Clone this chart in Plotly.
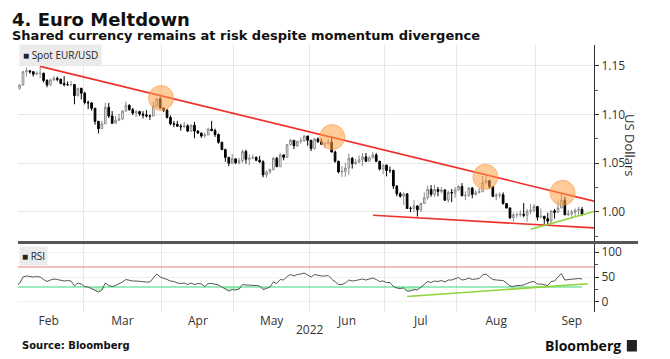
import plotly.graph_objects as go
import pandas as pd

# ---------------- data ----------------
DATES = pd.bdate_range("2022-02-01", "2022-09-20") + pd.Timedelta(hours=12)

OPEN_FIRST = 1.1235
CLOSE = [
    # Feb
    1.1270, 1.1305, 1.1440, 1.1450, 1.1440, 1.1415, 1.1425, 1.1425, 1.1350, 1.1305,
    1.1356, 1.1372, 1.1362, 1.1320, 1.1307, 1.1307, 1.1309, 1.1195, 1.1270, 1.1220,
    # Mar
    1.1125, 1.1120, 1.1065, 1.0930, 1.0855, 1.0905, 1.1075, 1.0985, 1.0910, 1.0940,
    1.0955, 1.1035, 1.1095, 1.1050, 1.1015, 1.1030, 1.1005, 1.0995, 1.0985, 1.0985,
    1.1090, 1.1160, 1.1067,
    # Apr
    1.1045, 1.0970, 1.0905, 1.0900, 1.0880, 1.0875, 1.0885, 1.0830, 1.0890, 1.0830,
    1.0810, 1.0780, 1.0790, 1.0850, 1.0835, 1.0795, 1.0715, 1.0640, 1.0560, 1.0500,
    1.0545,
    # May
    1.0505, 1.0525, 1.0620, 1.0540, 1.0550, 1.0560, 1.0530, 1.0515, 1.0380, 1.0410,
    1.0435, 1.0550, 1.0465, 1.0585, 1.0560, 1.0690, 1.0735, 1.0680, 1.0725, 1.0730,
    1.0780, 1.0735,
    # Jun
    1.0650, 1.0750, 1.0720, 1.0695, 1.0705, 1.0715, 1.0615, 1.0520, 1.0410, 1.0415,
    1.0450, 1.0550, 1.0495, 1.0510, 1.0535, 1.0565, 1.0520, 1.0555, 1.0585, 1.0520,
    1.0440, 1.0480,
    # Jul
    1.0425, 1.0425, 1.0265, 1.0185, 1.0160, 1.0185, 1.0035, 1.0035, 1.0060, 1.0020,
    1.0085, 1.0145, 1.0230, 1.0180, 1.0230, 1.0210, 1.0225, 1.0120, 1.0200, 1.0195,
    1.0225,
    # Aug
    1.0260, 1.0165, 1.0170, 1.0245, 1.0180, 1.0195, 1.0210, 1.0300, 1.0320, 1.0260,
    1.0160, 1.0170, 1.0175, 1.0085, 1.0040, 0.9940, 0.9970, 0.9970, 0.9975, 0.9965,
    1.0005, 1.0015, 1.0055,
    # Sep
    0.9945, 0.9955, 0.9930, 0.9905, 1.0010, 0.9995, 1.0040, 1.0120, 0.9970, 0.9980,
    0.9995, 1.0015, 1.0025, 0.9975,
]
HIGH = [
    1.1281, 1.1310, 1.1450, 1.1483, 1.1455, 1.1448, 1.1445, 1.1495, 1.1430, 1.1365,
    1.1368, 1.1395, 1.1390, 1.1370, 1.1395, 1.1340, 1.1345, 1.1315, 1.1275, 1.1275,
    1.1235, 1.1145, 1.1125, 1.1065, 1.0935, 1.0935, 1.1120, 1.1120, 1.1035, 1.0985,
    1.1010, 1.1045, 1.1135, 1.1105, 1.1070, 1.1045, 1.1040, 1.1035, 1.1045, 1.1000,
    1.1135, 1.1170, 1.1185,
    1.1075, 1.1055, 1.0990, 1.0935, 1.0935, 1.0905, 1.0925, 1.0900, 1.0900, 1.0925,
    1.0840, 1.0815, 1.0815, 1.0865, 1.0935, 1.0855, 1.0805, 1.0720, 1.0650, 1.0565,
    1.0595,
    1.0545, 1.0555, 1.0640, 1.0640, 1.0590, 1.0590, 1.0570, 1.0575, 1.0530, 1.0425,
    1.0445, 1.0565, 1.0565, 1.0605, 1.0590, 1.0695, 1.0750, 1.0735, 1.0730, 1.0765,
    1.0787, 1.0780,
    1.0740, 1.0755, 1.0765, 1.0750, 1.0710, 1.0750, 1.0774, 1.0630, 1.0525, 1.0470,
    1.0505, 1.0600, 1.0565, 1.0545, 1.0580, 1.0605, 1.0605, 1.0575, 1.0615, 1.0605,
    1.0525, 1.0490,
    1.0485, 1.0465, 1.0435, 1.0275, 1.0205, 1.0200, 1.0190, 1.0055, 1.0120, 1.0070,
    1.0095, 1.0200, 1.0270, 1.0275, 1.0280, 1.0255, 1.0255, 1.0235, 1.0215, 1.0235,
    1.0255,
    1.0275, 1.0295, 1.0210, 1.0255, 1.0255, 1.0225, 1.0245, 1.0368, 1.0368, 1.0330,
    1.0265, 1.0195, 1.0200, 1.0200, 1.0090, 1.0045, 0.9990, 0.9995, 1.0015, 1.0090,
    1.0030, 1.0080, 1.0080,
    1.0055, 1.0034, 0.9955, 0.9990, 1.0015, 1.0030, 1.0113, 1.0198, 1.0155, 1.0020,
    1.0020, 1.0035, 1.0050, 1.0050,
]
LOW = [
    1.1220, 1.1255, 1.1295, 1.1392, 1.1420, 1.1390, 1.1405, 1.1375, 1.1330, 1.1280,
    1.1295, 1.1345, 1.1340, 1.1310, 1.1290, 1.1295, 1.1290, 1.1106, 1.1185, 1.1155,
    1.1105, 1.1055, 1.1040, 1.0895, 1.0806, 1.0855, 1.0900, 1.0965, 1.0905, 1.0905,
    1.0940, 1.0945, 1.1030, 1.1040, 1.0995, 1.0975, 1.0985, 1.0960, 1.0970, 1.0945,
    1.0980, 1.1070, 1.1060,
    1.1025, 1.0960, 1.0890, 1.0870, 1.0875, 1.0835, 1.0860, 1.0820, 1.0820, 1.0757,
    1.0800, 1.0760, 1.0760, 1.0790, 1.0830, 1.0770, 1.0700, 1.0635, 1.0515, 1.0470,
    1.0490,
    1.0490, 1.0490, 1.0505, 1.0495, 1.0480, 1.0545, 1.0520, 1.0500, 1.0355, 1.0350,
    1.0390, 1.0425, 1.0460, 1.0460, 1.0530, 1.0555, 1.0685, 1.0645, 1.0665, 1.0700,
    1.0720, 1.0680,
    1.0625, 1.0640, 1.0710, 1.0690, 1.0655, 1.0690, 1.0610, 1.0505, 1.0395, 1.0359,
    1.0360, 1.0380, 1.0445, 1.0480, 1.0500, 1.0470, 1.0510, 1.0515, 1.0550, 1.0510,
    1.0425, 1.0385,
    1.0365, 1.0400, 1.0235, 1.0160, 1.0145, 1.0070, 1.0030, 0.9998, 0.9998, 0.9952,
    1.0000, 1.0080, 1.0125, 1.0155, 1.0155, 1.0160, 1.0190, 1.0110, 1.0095, 1.0100,
    1.0145,
    1.0215, 1.0160, 1.0120, 1.0150, 1.0140, 1.0165, 1.0195, 1.0200, 1.0280, 1.0235,
    1.0150, 1.0120, 1.0145, 1.0075, 1.0035, 0.9925, 0.9901, 0.9940, 0.9950, 0.9945,
    0.9900, 0.9975, 0.9995,
    0.9910, 0.9935, 0.9877, 0.9864, 0.9875, 0.9930, 0.9990, 1.0035, 0.9965, 0.9955,
    0.9945, 0.9955, 0.9965, 0.9955,
]
OPEN = [OPEN_FIRST] + CLOSE[:-1]

RSI = [
    33, 37, 50, 52, 51, 50, 51, 50, 45, 41, 44, 46, 45, 43, 42, 43, 42, 32, 38, 36,
    31, 30, 27, 23, 20, 24, 38, 33, 31, 33, 36, 40, 45, 43, 42, 42, 41, 40, 40, 40,
    48, 56, 50,
    48, 45, 42, 41, 38, 37, 38, 35, 38, 35, 37, 36, 31, 37, 37, 35, 34, 30, 26, 22,
    25,
    24, 26, 35, 34, 34, 34, 33, 32, 25, 27, 30, 40, 37, 45, 44, 51, 55, 52, 55, 56,
    58, 54,
    50, 55, 53, 52, 52, 53, 46, 40, 35, 35, 38, 44, 42, 43, 45, 46, 44, 46, 48, 45,
    41, 42,
    39, 39, 31, 28, 27, 28, 22, 22, 25, 24, 30, 35, 41, 39, 42, 41, 43, 40, 44, 44,
    46,
    49, 44, 45, 48, 45, 46, 47, 54, 56, 50, 45, 44, 44, 43, 38, 32, 31, 33, 33, 34,
    37, 40, 41,
    36, 36, 35, 33, 41, 42, 50, 57, 44, 45, 46, 47, 47, 46,
]
RSI_OVERBOUGHT = 70
RSI_OVERSOLD = 30

# annotation marks
UPPER_TREND_X = ["2022-02-10 12:00", "2022-09-23 23:59"]
UPPER_TREND_Y = [1.1495, 1.0110]
LOWER_TREND_X = ["2022-06-27 14:00", "2022-09-23 23:59"]
LOWER_TREND_Y = [0.9965, 0.9835]
PRICE_GREEN_X = ["2022-08-30 14:00", "2022-09-23 23:59"]
PRICE_GREEN_Y = [0.9820, 1.0003]
RSI_GREEN_X = ["2022-07-11 12:00", "2022-09-22 06:00"]
RSI_GREEN_Y = [11, 36.5]
CIRCLE_X = ["2022-03-31 18:00", "2022-06-09 16:00", "2022-08-11 08:00", "2022-09-12 20:00"]
CIRCLE_Y = [1.1170, 1.0769, 1.0360, 1.0195]

MONTH_LABELS = ["Feb", "Mar", "Apr", "May", "Jun", "Jul", "Aug", "Sep"]
MONTH_LABEL_POS = ["2022-02-15 00:00", "2022-03-16 12:00", "2022-04-15 12:00", "2022-05-17 00:00",
                   "2022-06-16 00:00", "2022-07-15 12:00", "2022-08-16 12:00", "2022-09-15 12:00"]
MONTH_STARTS = ["2022-03-01", "2022-04-01", "2022-05-02", "2022-06-01",
                "2022-07-01", "2022-08-01", "2022-09-01"]
PRICE_TICKS = [1.00, 1.05, 1.10, 1.15]
PRICE_MINOR = [0.975, 1.025, 1.075, 1.125]
RSI_TICKS = [0, 50, 100]
RSI_MINOR = [25, 75]

X_RANGE = ["2022-02-02 01:00", "2022-09-23 23:59"]

# ---------------- figure ----------------
FONT = "Open Sans"
fig = go.Figure()

fig.add_trace(go.Candlestick(
    x=DATES, open=OPEN, high=HIGH, low=LOW, close=CLOSE,
    increasing=dict(fillcolor="#ffffff", line=dict(color="#8a8a8a", width=1)),
    decreasing=dict(fillcolor="#000000", line=dict(color="#000000", width=1)),
    whiskerwidth=0, xaxis="x", yaxis="y", showlegend=False, hoverinfo="skip"))

red = "#f0302a"
lg = "#8ed43a"
for xs, ys, col in [(UPPER_TREND_X, UPPER_TREND_Y, red), (LOWER_TREND_X, LOWER_TREND_Y, red),
                    (PRICE_GREEN_X, PRICE_GREEN_Y, lg)]:
    fig.add_trace(go.Scatter(x=xs, y=ys, mode="lines", line=dict(color=col, width=1.6),
                             xaxis="x", yaxis="y", showlegend=False, hoverinfo="skip"))

fig.add_trace(go.Scatter(
    x=CIRCLE_X, y=CIRCLE_Y, mode="markers",
    marker=dict(size=25, color="rgba(255,160,70,0.55)",
                line=dict(color="rgba(250,150,60,0.6)", width=1)),
    xaxis="x", yaxis="y", showlegend=False, hoverinfo="skip"))

# RSI panel
oversold_line = [RSI_OVERSOLD] * len(RSI)
rsi_below = [min(v, RSI_OVERSOLD) for v in RSI]
fig.add_trace(go.Scatter(x=DATES, y=oversold_line, mode="lines",
                         line=dict(color="#3fd67a", width=1.2),
                         xaxis="x2", yaxis="y2", showlegend=False, hoverinfo="skip"))
fig.add_trace(go.Scatter(x=DATES, y=rsi_below, mode="lines", line=dict(width=0),
                         fill="tonexty", fillcolor="rgba(140,235,160,0.55)",
                         xaxis="x2", yaxis="y2", showlegend=False, hoverinfo="skip"))
fig.add_trace(go.Scatter(x=DATES, y=RSI, mode="lines", line=dict(color="#555555", width=1),
                         xaxis="x2", yaxis="y2", showlegend=False, hoverinfo="skip"))
fig.add_trace(go.Scatter(x=RSI_GREEN_X, y=RSI_GREEN_Y, mode="lines",
                         line=dict(color=lg, width=1.6),
                         xaxis="x2", yaxis="y2", showlegend=False, hoverinfo="skip"))

rb = [dict(bounds=["sat", "mon"])]
grid = "#e6e6e6"
xcommon = dict(type="date", rangebreaks=rb, range=X_RANGE, showgrid=False,
               tickmode="array", tickvals=MONTH_LABEL_POS, ticktext=MONTH_LABELS,
               ticks="", zeroline=False, showline=False,
               minor=dict(tickmode="array", tickvals=MONTH_STARTS, showgrid=True,
                          gridcolor=grid, gridwidth=1, ticks=""),
               tickfont=dict(family=FONT, size=12, color="#333"))

# the page body adds an 8px offset, so the figure is 8px smaller on each axis
fig.update_layout(
    width=662, height=351,
    margin=dict(l=10, r=76, t=37, b=47),
    paper_bgcolor="white", plot_bgcolor="white",
    xaxis=dict(**xcommon, domain=[0, 1], anchor="y", showticklabels=False,
               rangeslider=dict(visible=False)),
    xaxis2=dict(**xcommon, domain=[0, 1], anchor="y2", matches="x", showticklabels=True),
    yaxis=dict(domain=[0.2622, 1], side="right", anchor="x", range=[0.969, 1.1715],
               tickmode="array", tickvals=PRICE_TICKS, tickformat=".2f",
               showgrid=True, gridcolor=grid, zeroline=False,
               showline=True, linecolor="#333", linewidth=1,
               ticks="outside", ticklen=4, tickcolor="#333",
               minor=dict(tickmode="array", tickvals=PRICE_MINOR, ticks="outside",
                          ticklen=3, tickcolor="#555", showgrid=False),
               tickfont=dict(family=FONT, size=12, color="#333")),
    yaxis2=dict(domain=[0, 0.2584], side="right", anchor="x2", range=[-20, 118],
                tickmode="array", tickvals=RSI_TICKS,
                showgrid=True, gridcolor="#efefef", zeroline=False,
                showline=True, linecolor="#333", linewidth=1,
                ticks="outside", ticklen=4, tickcolor="#333",
                minor=dict(tickmode="array", tickvals=RSI_MINOR, ticks="outside",
                           ticklen=3, tickcolor="#555", showgrid=False),
                tickfont=dict(family=FONT, size=12, color="#333")),
    shapes=[
        dict(type="line", xref="paper", yref="paper", x0=0, x1=1.0764, y0=0.2603, y1=0.2603,
             line=dict(color="#555555", width=3)),
        dict(type="line", xref="x2 domain", yref="y2", x0=0, x1=1,
             y0=RSI_OVERBOUGHT, y1=RSI_OVERBOUGHT, line=dict(color="#f07a7a", width=1.2)),
        dict(type="rect", xref="paper", yref="paper", x0=1.057, x1=1.0745, y0=-0.148, y1=-0.105,
             fillcolor="#222", line=dict(width=0)),
    ],
    annotations=[
        dict(text="<b>4. Euro Meltdown</b>", xref="paper", yref="paper", x=-0.0139, y=1.097,
             xanchor="left", yanchor="middle", showarrow=False,
             font=dict(family="DejaVu Sans", size=18, color="#111")),
        dict(text="<b>Shared currency remains at risk despite momentum divergence</b>",
             xref="paper", yref="paper", x=-0.0139, y=1.034, xanchor="left", yanchor="middle",
             showarrow=False, font=dict(family="DejaVu Sans", size=13, color="#111")),
        dict(text="■ Spot EUR/USD", xref="paper", yref="paper", x=0.002, y=0.9625,
             xanchor="left", yanchor="middle", showarrow=False, bgcolor="#ebebeb", borderpad=3,
             font=dict(family=FONT, size=10, color="#222")),
        dict(text="■ RSI", xref="paper", yref="paper", x=0.002, y=0.2097,
             xanchor="left", yanchor="middle", showarrow=False, bgcolor="#ebebeb", borderpad=2,
             font=dict(family=FONT, size=10, color="#222")),
        dict(text="US Dollars", xref="paper", yref="paper", x=1.0625, y=0.6255,
             xanchor="center", yanchor="middle", textangle=90, showarrow=False,
             font=dict(family=FONT, size=13, color="#333")),
        dict(text="2022", xref="paper", yref="paper", x=0.507, y=-0.0674,
             xanchor="center", yanchor="middle", showarrow=False,
             font=dict(family=FONT, size=12, color="#333")),
        dict(text="<b>Source: Bloomberg</b>", xref="paper", yref="paper", x=0.0035, y=-0.1236,
             xanchor="left", yanchor="middle", showarrow=False,
             font=dict(family="DejaVu Sans", size=10, color="#111")),
        dict(text="<b>Bloomberg</b>", xref="paper", yref="paper", x=1.050, y=-0.1236,
             xanchor="right", yanchor="middle", showarrow=False,
             font=dict(family=FONT, size=14, color="#111")),
    ],
)

fig.write_html("out.html")
